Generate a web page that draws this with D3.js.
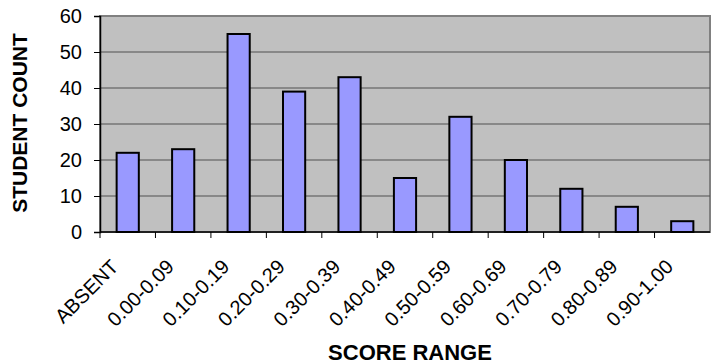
<!DOCTYPE html>
<html>
<head>
<meta charset="utf-8">
<script src="https://cdn.jsdelivr.net/npm/d3@7"></script>
<style>
  html, body { margin: 0; padding: 0; background: #fff; }
  svg { display: block; font-family: "Liberation Sans", Arial, sans-serif; }
</style>
</head>
<body>
<svg id="chart" width="711" height="364"></svg>
<script>
// Score distribution: number of students in each score band
const categories = ["ABSENT", "0.00-0.09", "0.10-0.19", "0.20-0.29", "0.30-0.39",
  "0.40-0.49", "0.50-0.59", "0.60-0.69", "0.70-0.79", "0.80-0.89", "0.90-1.00"];
const counts = [22, 23, 55, 39, 43, 15, 32, 20, 12, 7, 3];
const yTicks = [0, 10, 20, 30, 40, 50, 60];

const svg = d3.select("#chart");
const plot = { left: 100, right: 710, top: 16, bottom: 232 };

const x = d3.scaleBand()
  .domain(categories)
  .range([plot.left, plot.right])
  .paddingInner(0)
  .paddingOuter(0);

const y = d3.scaleLinear()
  .domain([0, 60])
  .range([plot.bottom, plot.top]);

// plot background with grey frame
svg.append("rect")
  .attr("x", plot.left).attr("y", plot.top)
  .attr("width", plot.right - plot.left).attr("height", plot.bottom - plot.top)
  .attr("fill", "#c0c0c0")
  .attr("stroke", "#808080").attr("stroke-width", 2);

// horizontal gridlines
svg.append("g")
  .selectAll("line")
  .data(yTicks.filter(d => d > 0 && d < 60))
  .join("line")
  .attr("x1", plot.left).attr("x2", plot.right)
  .attr("y1", d => y(d)).attr("y2", d => y(d))
  .attr("stroke", "#505050").attr("stroke-width", 1);

// bars
const barW = x.bandwidth() * 0.4;
svg.append("g")
  .selectAll("rect")
  .data(categories.map((c, i) => ({ c, v: counts[i] })))
  .join("rect")
  .attr("x", d => x(d.c) + (x.bandwidth() - barW) / 2)
  .attr("y", d => y(d.v))
  .attr("width", barW)
  .attr("height", d => y(0) - y(d.v))
  .attr("fill", "#9999ff")
  .attr("stroke", "#000").attr("stroke-width", 2);

// y axis
const yAxis = svg.append("g")
  .attr("transform", `translate(${plot.left},0)`)
  .call(d3.axisLeft(y).tickValues(yTicks).tickSize(6).tickPadding(12));
yAxis.select(".domain").attr("stroke", "#000").attr("stroke-width", 1.5);
yAxis.selectAll(".tick line").attr("stroke", "#000");
yAxis.selectAll(".tick text")
  .attr("font-size", 20).attr("fill", "#000")
  .attr("font-family", "Liberation Sans, Arial, sans-serif");

// x axis with ticks on category boundaries
const xAxis = svg.append("g")
  .attr("transform", `translate(0,${plot.bottom})`);
xAxis.append("line")
  .attr("x1", plot.left).attr("x2", plot.right)
  .attr("stroke", "#000").attr("stroke-width", 1.5);
xAxis.selectAll(".bt")
  .data(categories)
  .join("line")
  .attr("class", "bt")
  .attr("x1", d => x(d)).attr("x2", d => x(d))
  .attr("y1", 0).attr("y2", 6)
  .attr("stroke", "#000");
xAxis.selectAll("text")
  .data(categories)
  .join("text")
  .attr("text-anchor", "end")
  .attr("font-size", 20)
  .attr("transform", d => `translate(${x(d) + x.bandwidth() / 2 - 8},${36}) rotate(-45)`)
  .text(d => d);

// axis titles
svg.append("text")
  .attr("x", 410)
  .attr("y", 360)
  .attr("text-anchor", "middle")
  .attr("font-size", 22).attr("font-weight", "bold")
  .text("SCORE RANGE");

svg.append("text")
  .attr("transform", `translate(27,${(plot.top + plot.bottom) / 2 - 1}) rotate(-90)`)
  .attr("text-anchor", "middle")
  .attr("font-size", 21).attr("font-weight", "bold")
  .text("STUDENT COUNT");
</script>
</body>
</html>
